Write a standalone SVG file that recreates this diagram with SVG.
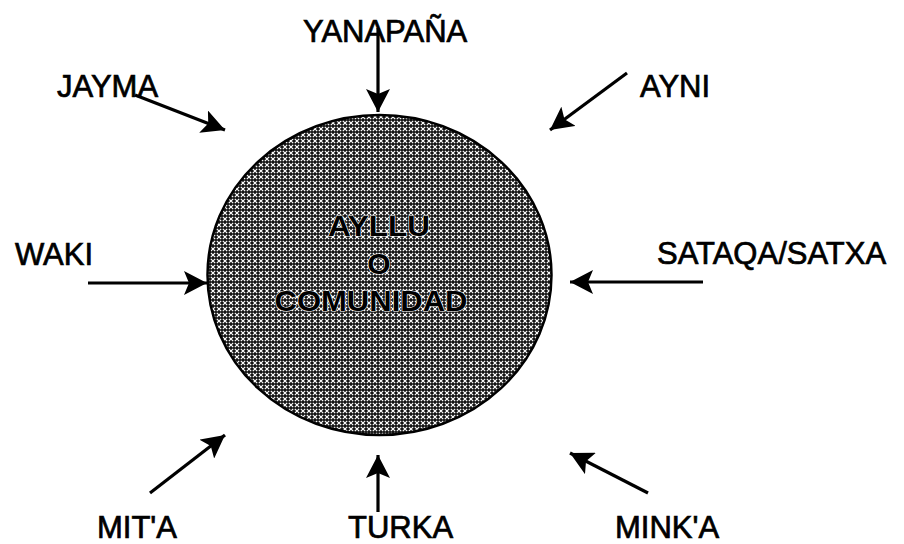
<svg xmlns="http://www.w3.org/2000/svg" width="904" height="544" viewBox="0 0 904 544">
  <defs>
    <!-- cross-hatch fill for the central ellipse -->
    <pattern id="xhatch" width="6" height="6" patternUnits="userSpaceOnUse">
      <rect width="6" height="6" fill="#141414"/>
      <path d="M0.8 0.8 L5.2 5.2 M5.2 0.8 L0.8 5.2" stroke="#ffffff" stroke-width="1.2" fill="none"/>
    </pattern>
    <marker id="head" markerUnits="userSpaceOnUse" markerWidth="26" markerHeight="24" refX="23" refY="12" orient="auto">
      <path d="M0 0 L23 12 L0 24 L5 12 Z" fill="#000"/>
    </marker>
    <style>
      .lbl { font-family: "Liberation Sans", Arial, sans-serif; font-size: 31px; fill: #000;
             stroke: #000; stroke-width: 0.7px; }
      .ctr { font-family: "Liberation Sans", Arial, sans-serif; font-size: 30px; font-weight: bold; fill: #000;
             stroke: #fff; stroke-width: 1.2px; paint-order: stroke; text-anchor: middle; }
      .arr { stroke: #000; stroke-width: 3.2; fill: none; marker-end: url(#head); }
    </style>
  </defs>
  <rect width="904" height="544" fill="#fff"/>

  <!-- central node -->
  <g id="ayllu">
    <ellipse cx="379.5" cy="275" rx="172" ry="160" fill="url(#xhatch)" stroke="#000" stroke-width="2.5"/>
    <text class="ctr" x="379" y="236" textLength="102" lengthAdjust="spacingAndGlyphs">AYLLU</text>
    <text class="ctr" x="379" y="274">O</text>
    <text class="ctr" x="371" y="311" textLength="193" lengthAdjust="spacingAndGlyphs">COMUNIDAD</text>
  </g>

  <!-- surrounding labels -->
  <g id="yanapana"><text class="lbl" x="303" y="42" font-size="32">YANAPAÑA</text></g>
  <g id="jayma"><text class="lbl" x="57" y="97">JAYMA</text></g>
  <g id="ayni"><text class="lbl" x="640" y="97">AYNI</text></g>
  <g id="waki"><text class="lbl" x="15" y="265">WAKI</text></g>
  <g id="sataqa"><text class="lbl" x="657" y="264">SATAQA/SATXA</text></g>
  <g id="mita"><text class="lbl" x="97" y="538">MIT'A</text></g>
  <g id="turka"><text class="lbl" x="348" y="538">TURKA</text></g>
  <g id="minka"><text class="lbl" x="615" y="538">MINK'A</text></g>

  <!-- connectors -->
  <g id="connectors">
    <line class="arr" x1="378" y1="28" x2="378" y2="112"/>
    <line class="arr" x1="135" y1="95" x2="225" y2="130"/>
    <line class="arr" x1="627" y1="73" x2="550" y2="130"/>
    <line class="arr" x1="88" y1="283" x2="207" y2="283"/>
    <line class="arr" x1="703" y1="282" x2="570" y2="282"/>
    <line class="arr" x1="150" y1="493" x2="225" y2="435"/>
    <line class="arr" x1="378" y1="512" x2="378" y2="455"/>
    <line class="arr" x1="648" y1="493" x2="570" y2="453"/>
  </g>
</svg>
